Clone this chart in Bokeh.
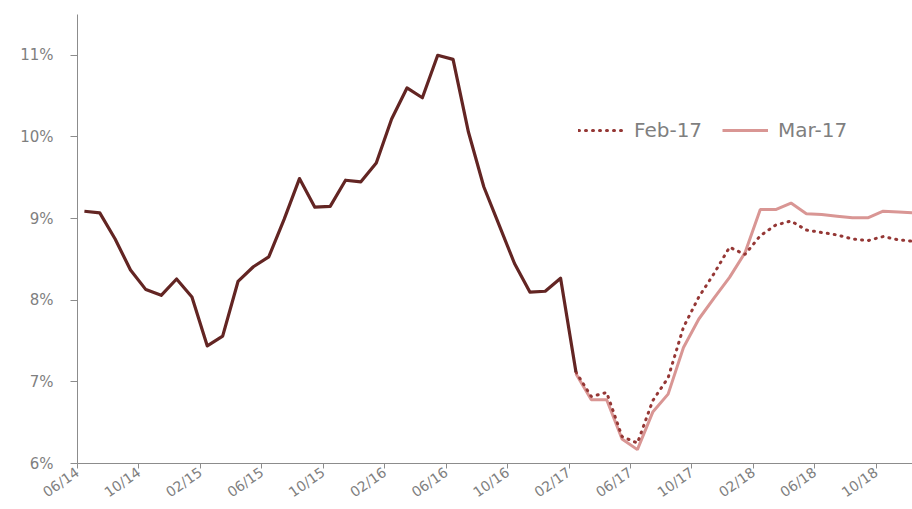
import math
from bokeh.plotting import figure
from bokeh.models import (Legend, LegendItem, FixedTicker, PrintfTickFormatter,
                          Range1d)
from bokeh.embed import file_html
from bokeh.resources import INLINE

# ---- data (monthly, index 0 = Jun 2014) ----
hist_start = 0
hist_vals = [9.09, 9.07, 8.75, 8.37, 8.13, 8.06, 8.26, 8.04, 7.44, 7.56,
             8.23, 8.41, 8.53, 8.99, 9.49, 9.14, 9.15, 9.47, 9.45, 9.68,
             10.22, 10.60, 10.48, 11.00, 10.95, 10.06, 9.39, 8.92, 8.45, 8.10,
             8.11, 8.27, 7.12]

fc_start = 32  # Feb 2017
feb17_vals = [7.12, 6.82, 6.87, 6.33, 6.25, 6.77, 7.05, 7.67, 8.04, 8.33,
              8.65, 8.56, 8.79, 8.92, 8.97, 8.86, 8.83, 8.80, 8.75, 8.73,
              8.78, 8.74, 8.72]
mar17_vals = [7.10, 6.78, 6.78, 6.30, 6.17, 6.63, 6.85, 7.42, 7.77, 8.03,
              8.28, 8.58, 9.11, 9.11, 9.19, 9.06, 9.05, 9.03, 9.01, 9.01,
              9.09, 9.08, 9.07]

tick_months = [0, 4, 8, 12, 16, 20, 24, 28, 32, 36, 40, 44, 48, 52]
tick_labels = ["06/14", "10/14", "02/15", "06/15", "10/15", "02/16", "06/16",
               "10/16", "02/17", "06/17", "10/17", "02/18", "06/18", "10/18"]
y_ticks = [6, 7, 8, 9, 10, 11]
y_min, y_max = 6, 11.5

MID = 0.45  # points sit mid-month
def xs(start, vals):
    return [start + i + MID for i in range(len(vals))]

DARK = "#632523"
FEB = "#953735"
MAR = "#D99694"
GREY = "#7f7f7f"
AXIS = "#8c8c8c"
FONT = "DejaVu Sans"

p = figure(width=912, height=509, output_backend="svg", toolbar_location=None,
           x_range=Range1d(0, 54.36), y_range=Range1d(y_min, y_max),
           min_border_left=77, min_border_right=0, min_border_top=14,
           min_border_bottom=46)
p.outline_line_color = None
p.grid.visible = False
p.background_fill_color = "white"

r_mar = p.line(xs(fc_start, mar17_vals), mar17_vals, line_color=MAR, line_width=3)
r_feb = p.line(xs(fc_start, feb17_vals), feb17_vals, line_color=FEB, line_width=3,
               line_dash="1 6", line_cap="round")
p.line(xs(hist_start, hist_vals), hist_vals, line_color=DARK, line_width=3.2,
       line_join="round")

# y axis
ya = p.yaxis[0]
ya.ticker = FixedTicker(ticks=y_ticks)
ya.formatter = PrintfTickFormatter(format="%d%%")
ya.axis_line_color = AXIS
ya.major_tick_line_color = AXIS
ya.major_tick_out = 7
ya.major_tick_in = 0
ya.minor_tick_line_color = None
ya.major_label_text_color = GREY
ya.major_label_text_font = FONT
ya.major_label_text_font_size = "15px"
ya.major_label_standoff = 17

# x axis
xa = p.xaxis[0]
xa.ticker = FixedTicker(ticks=tick_months)
xa.major_label_overrides = {m: l for m, l in zip(tick_months, tick_labels)}
xa.major_label_orientation = math.radians(35)
xa.axis_line_color = AXIS
xa.major_tick_line_color = AXIS
xa.major_tick_out = 5
xa.major_tick_in = 0
xa.minor_tick_line_color = None
xa.major_label_text_color = GREY
xa.major_label_text_font = FONT
xa.major_label_text_font_size = "14px"
xa.major_label_standoff = 2

legend = Legend(items=[LegendItem(label="Feb-17", renderers=[r_feb]),
                       LegendItem(label="Mar-17", renderers=[r_mar])],
                orientation="horizontal", location=(501, 321),
                border_line_color=None, background_fill_alpha=0,
                glyph_width=46, glyph_height=22, label_standoff=10, spacing=20,
                padding=0, margin=0,
                label_text_font=FONT, label_text_font_size="20px",
                label_text_color=GREY)
p.add_layout(legend)

open("out.html", "w").write(file_html(p, INLINE))
